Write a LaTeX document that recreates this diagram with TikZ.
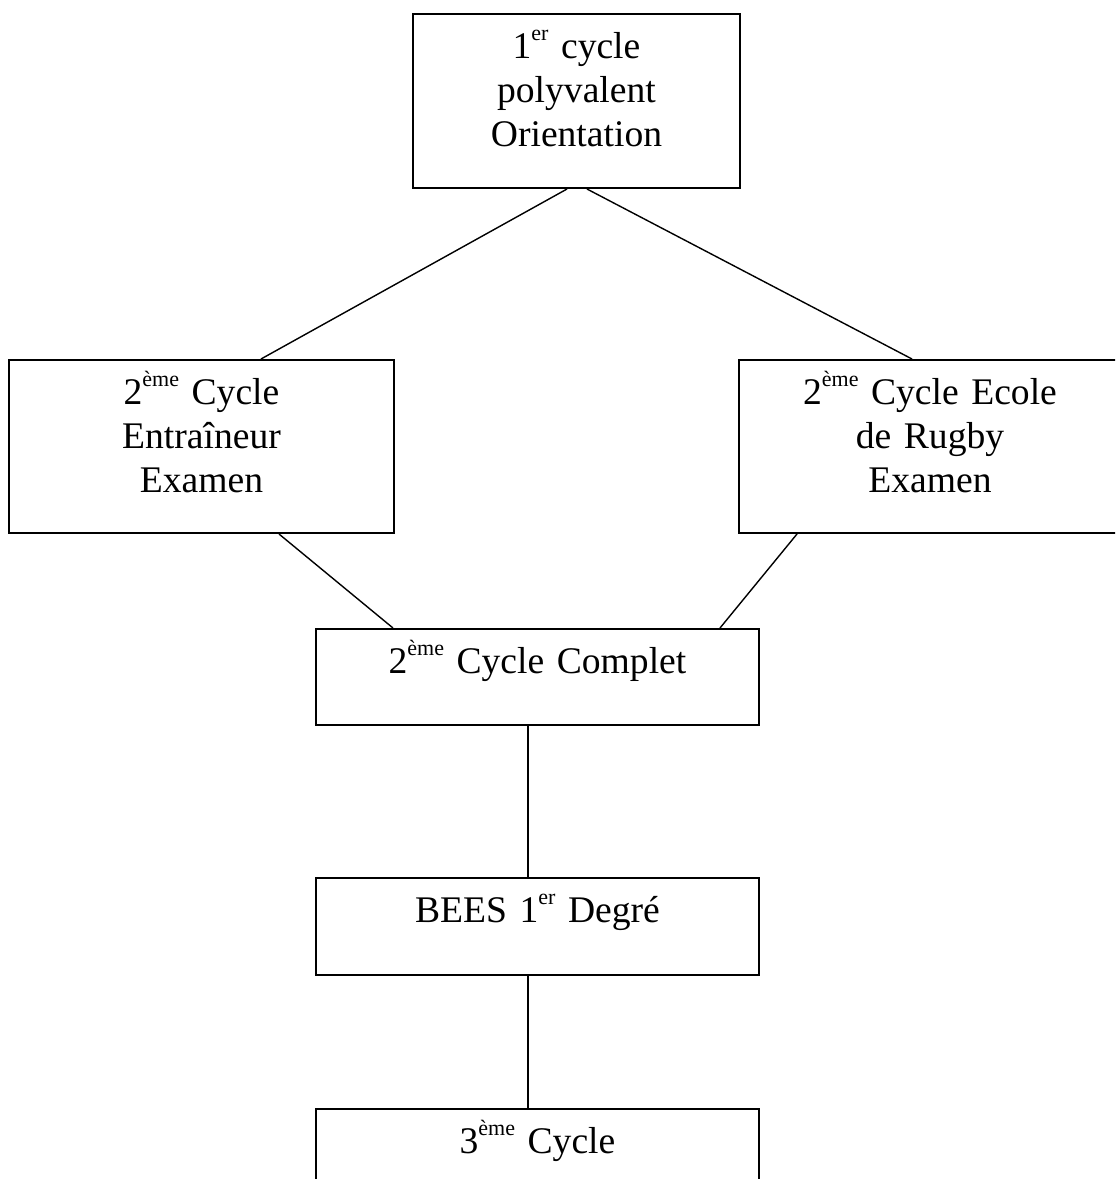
\documentclass[tikz,border=0pt]{standalone}
\usepackage{fontspec}
\setmainfont{Liberation Serif}

\newcommand{\exposant}[1]{\raisebox{9pt}{\fontsize{11}{11}\selectfont #1}}

\tikzset{
  cyclebox/.style={rectangle,
                   draw=black,
                   line width=1pt,
                   inner sep=0pt,
                   align=center,
                   anchor=north,
                   text height=22pt,
                   font=\fontsize{18.8}{22}\selectfont},
  link/.style={draw=black, line width=0.7pt}
}

\begin{document}
\begin{tikzpicture}[x=0.5pt, y=-0.5pt]
\useasboundingbox (0,0) rectangle (1115,1179);
\clip (0,0) rectangle (1115,1179);

% boxes
\node[cyclebox, text width=163.5pt, text depth=65pt] (premier) at (576.5,13)
  {1\exposant{er} cycle\\ polyvalent\\ Orientation};
\node[cyclebox, text width=192.5pt, text depth=64.5pt] (entraineur) at (201.5,359)
  {2\exposant{ème} Cycle\\ Entraîneur\\ Examen};
\node[cyclebox, text width=191pt, text depth=64.5pt] (ecole) at (930,359)
  {2\exposant{ème} Cycle Ecole\\ de Rugby\\ Examen};
\node[cyclebox, text width=221.5pt, text depth=26pt] (complet) at (537.5,628)
  {2\exposant{ème} Cycle Complet};
\node[cyclebox, text width=221.5pt, text depth=26.5pt] (bees) at (537.5,877)
  {BEES 1\exposant{er} Degré};
\node[cyclebox, text width=221.5pt, text depth=40pt] (troisieme) at (537.5,1108)
  {3\exposant{ème} Cycle};

% links
\draw[link] ([xshift=-4.75pt]premier.south) -- ([xshift=29.75pt]entraineur.north);
\draw[link] ([xshift=5.25pt]premier.south) -- ([xshift=-9pt]ecole.north);
\draw[link] ([xshift=38.75pt]entraineur.south) -- ([xshift=-72.25pt]complet.north);
\draw[link] ([xshift=-66.5pt]ecole.south) -- ([xshift=91.25pt]complet.north);
\draw[link] ([xshift=-4.75pt]complet.south) -- ([xshift=-4.75pt]bees.north);
\draw[link] ([xshift=-4.75pt]bees.south) -- ([xshift=-4.75pt]troisieme.north);
\end{tikzpicture}
\end{document}
